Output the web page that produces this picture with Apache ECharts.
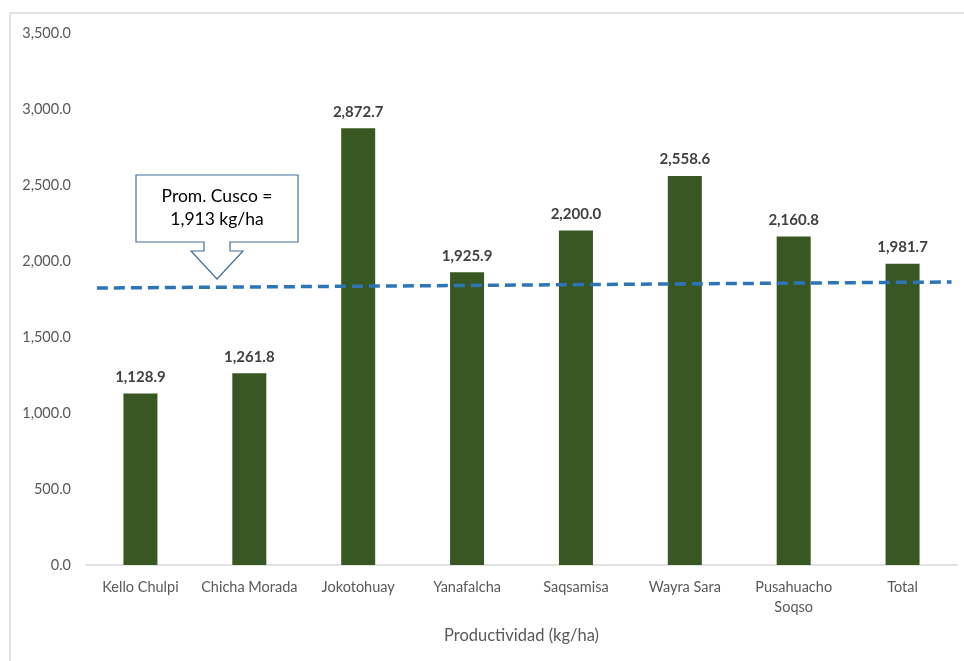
<!DOCTYPE html>
<html>
<head>
<meta charset="utf-8">
<title>Productividad (kg/ha)</title>
<script src="https://cdn.jsdelivr.net/npm/echarts@6/dist/echarts.min.js"></script>
<style>
    html, body {margin: 0; padding: 0; background: #fff;}
    #main {width: 964px; height: 661px;}
</style>
</head>
<body>
<div id="main"></div>
<script>
"use strict";
// datos
var categorias = ['Kello Chulpi', 'Chicha Morada', 'Jokotohuay', 'Yanafalcha', 'Saqsamisa', 'Wayra Sara', 'Pusahuacho\nSoqso', 'Total'];
var productividad = [1128.9, 1261.8, 2872.7, 1925.9, 2200.0, 2558.6, 2160.8, 1981.7];
// linea de tendencia (posicion en categorias, valor)
var lineaX = [0.1, 7.95];
var lineaY = [1822, 1862];
var promTexto = ['Prom. Cusco =', '1,913 kg/ha'];

var fuente = 'Lato, "Open Sans", sans-serif';

function fmt(v) {
    return Number(v).toLocaleString('en-US', {minimumFractionDigits: 1, maximumFractionDigits: 1});
}

var chart = echarts.init(document.getElementById('main'));

var option = {
    animation: false,
    grid: {left: 86, right: 7, top: 33, bottom: 96, containLabel: false},
    xAxis: [{
        type: 'category',
        data: categorias,
        name: 'Productividad (kg/ha)',
        nameLocation: 'middle',
        nameGap: 62,
        nameTextStyle: {color: '#595959', fontSize: 16.5, fontFamily: fuente},
        axisLine: {lineStyle: {color: '#d9d9d9', width: 1.5}},
        axisTick: {show: false},
        axisLabel: {color: '#595959', fontSize: 14.5, fontFamily: fuente, margin: 12, interval: 0, lineHeight: 20}
    }, {
        type: 'value',
        min: 0,
        max: 8,
        show: false
    }],
    yAxis: {
        type: 'value',
        min: 0,
        max: 3500,
        interval: 500,
        axisLine: {show: false},
        axisTick: {show: false},
        splitLine: {show: false},
        axisLabel: {color: '#595959', fontSize: 14.5, fontFamily: fuente, margin: 15, formatter: fmt}
    },
    series: [{
        type: 'bar',
        data: productividad,
        barWidth: 34,
        itemStyle: {color: '#385723'},
        label: {
            show: true,
            position: 'top',
            distance: 9,
            color: '#404040',
            fontWeight: 'bold',
            fontSize: 15,
            fontFamily: fuente,
            formatter: function (p) { return fmt(p.value); }
        }
    }, {
        type: 'line',
        xAxisIndex: 1,
        data: lineaX.map(function (x, i) { return [x, lineaY[i]]; }),
        symbol: 'none',
        lineStyle: {color: '#2e75b6', width: 3.5, type: [11, 6]},
        z: 5
    }],
    graphic: [{
        type: 'rect',
        shape: {x: 10, y: 13, width: 1000, height: 700},
        style: {fill: 'none', stroke: '#d9d9d9', lineWidth: 1.5},
        silent: true
    }, {
        // llamada "Prom. Cusco"
        type: 'polygon',
        shape: {
            points: [[136, 175], [298, 175], [298, 242], [230, 242], [230, 251], [243, 251],
                [217, 279], [191, 251], [204, 251], [204, 242], [136, 242]]
        },
        style: {fill: '#fff', stroke: '#41719c', lineWidth: 1.2},
        z: 10
    }, {
        type: 'text',
        x: 217,
        y: 208,
        style: {
            text: promTexto.join('\n'),
            align: 'center',
            verticalAlign: 'middle',
            fill: '#000',
            font: '17.5px ' + fuente,
            lineHeight: 23
        },
        z: 11
    }]
};

chart.setOption(option);
</script>
</body>
</html>
